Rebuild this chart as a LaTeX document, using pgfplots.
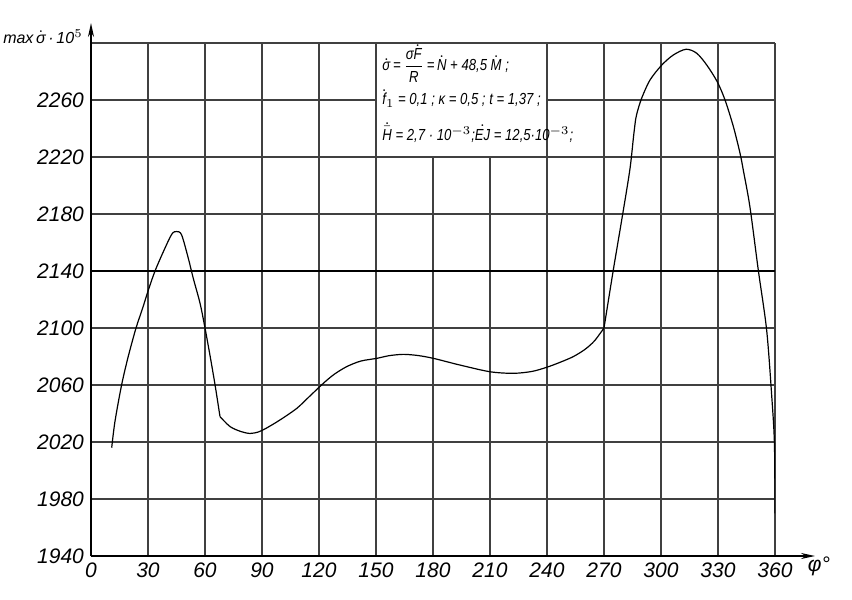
\documentclass[border=0pt]{standalone}
\usepackage{fontspec}
\setmainfont{Liberation Sans}
\newfontfamily\narrowfont[FakeStretch=0.82]{Liberation Sans}
\usepackage{pgfplots}
\pgfplotsset{compat=1.18}
\usetikzlibrary{arrows.meta}
\newcommand{\dd}[1]{\ensuremath{\dot{\mbox{#1}}}}

\begin{document}
\begin{tikzpicture}
\begin{axis}[
    scale only axis,
    width=342pt, height=256.5pt,
    xmin=0, xmax=360,
    ymin=1940, ymax=2300,
    axis lines=left,
    axis line style={line width=0.8pt, black},
    x axis line style={-{Stealth[length=7pt,width=3pt]}, shorten >=-20pt},
    y axis line style={-{Stealth[length=7pt,width=3pt]}, shorten >=-10pt},
    xtick={0,30,...,360},
    ytick={1940,1980,...,2300},
    yticklabels={1940,1980,2020,2060,2100,2140,2180,2220,2260,{}},
    major tick length=0pt,
    grid=major,
    grid style={line width=0.7pt, black!75},
    tick label style={font=\fontsize{10.5}{12}\selectfont\itshape},
    /pgf/number format/assume math mode=true,
    /pgf/number format/1000 sep={},
    clip mode=individual,
]
% heavier line at 2140
\draw[line width=1.1pt, black] (axis cs:0,2140) -- (axis cs:360,2140);

\addplot[black, line width=0.6pt, smooth, tension=0.5] coordinates {
    (10.9,2016) (12.6,2034.3) (16.1,2060) (19.6,2080) (23.7,2100)
    (27.2,2114) (30.2,2126.7) (33.7,2140) (38.1,2153.6) (42.5,2165.8)
    (45.1,2167.7) (47.7,2165.3) (51.2,2149) (53.8,2135) (57.4,2117.3)
    (60,2100) (62.6,2081) (65.3,2060) (67.9,2037.8)
};
\addplot[black, line width=0.6pt, smooth, tension=0.5] coordinates {
    (67.9,2037.8) (73.2,2030.8) (79,2027.3) (83.7,2026) (88,2027)
    (92,2029.5) (99.5,2035.5) (108.3,2043.6) (115,2052) (122.3,2061.2)
    (128,2067.5) (134.6,2072.9) (142,2076.8) (150.4,2078.7) (157,2080.6)
    (164.4,2081.5) (172,2080.7) (180.2,2078.7) (194.2,2074) (210,2069.3)
    (222.3,2068.2) (232,2069.5) (239.8,2072.4) (247,2076) (253.8,2079.9)
    (260,2085) (265,2091) (270,2100)
};
\addplot[black, line width=0.6pt, smooth, tension=0.5] coordinates {
    (270,2100) (274.9,2140.7) (280.2,2182.8) (283.7,2212) (285.6,2235)
    (286.6,2246)
};
\addplot[black, line width=0.6pt, smooth, tension=0.5] coordinates {
    (286.6,2246) (287.5,2251.5) (289.8,2261.2) (294.2,2274) (300.4,2284.5)
    (306.5,2291.6) (313.2,2295.6) (318.8,2292.8) (324.1,2284.5)
    (329.6,2272.8) (333.7,2260) (338.1,2241.3) (341.6,2222.6)
    (343.3,2210.9) (346.8,2185) (351.2,2140.7) (355.6,2098.6)
    (358.3,2051.8) (359.7,2019) (360,1970)
};

% formula box
\fill[white] (axis cs:150,2220) rectangle (axis cs:240,2300);
\draw[line width=0.7pt, black!75] (axis cs:150,2220) rectangle (axis cs:240,2300);
\begin{scope}[every node/.style={inner sep=0pt, anchor=base west,
    font=\narrowfont\fontsize{8}{9}\selectfont\itshape}]
\node at (axis cs:153.2,2280.5)
    {\dd{σ}\,=\,$\displaystyle\frac{\mbox{σ}\dot{\mbox{F}}}{\mbox{R}}$\,=\,\dd{N} + 48,5 \dd{M} ;};
\node at (axis cs:153.2,2256.5)
    {\dd{f}$_1$ = 0,1 ; κ = 0,5 ; t = 1,37 ;};
\node at (axis cs:153.2,2231.9)
    {$\dot{\bar{\mbox{H}}}$ = 2,7 · 10$^{-3}$;\dd{EJ} = 12,5·10$^{-3}$;};
\end{scope}

% axis names
\node[anchor=base east, inner sep=0pt, font=\fontsize{8}{9}\selectfont\itshape]
    at ([xshift=-4pt]axis cs:0,2300) {max\,\dd{σ}\,·\,10$^{5}$};
\node[inner sep=0pt, font=\fontsize{10.5}{12}\selectfont\itshape]
    at ([xshift=22pt, yshift=-5pt]axis cs:360,1940) {φ°};
\end{axis}
\pgfresetboundingbox
\path[use as bounding box] (-45.5pt,-22pt) rectangle (380.5pt,278pt);
\end{tikzpicture}
\end{document}
